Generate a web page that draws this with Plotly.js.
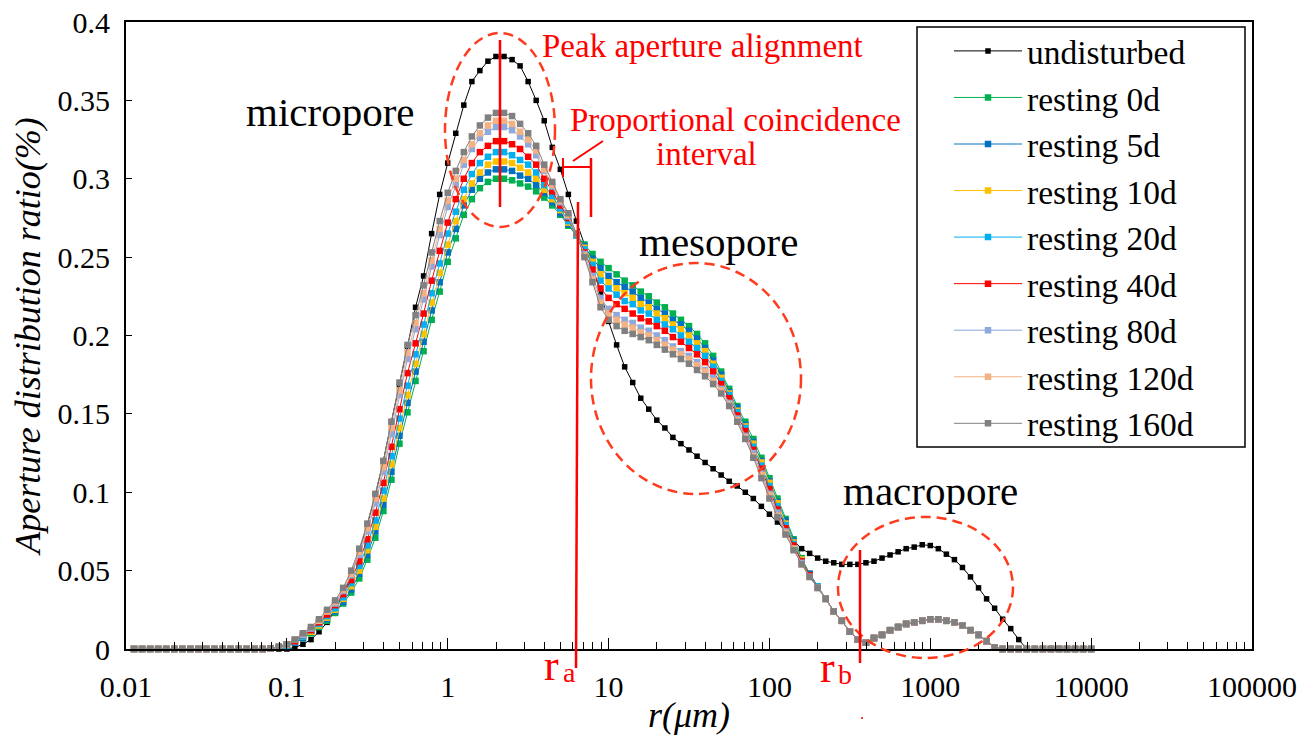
<!DOCTYPE html>
<html><head><meta charset="utf-8">
<script src="https://cdn.plot.ly/plotly-3.0.1.min.js"></script>
<style>html,body{margin:0;padding:0;background:#fff;}#chart{width:1299px;height:740px;}</style>
</head><body><div id="chart"></div>
<script>
// pore radius r (µm)
const radius = [0.01122,0.01259,0.01413,0.01585,0.01778,0.01995,0.02239,0.02512,0.02818,0.03162,0.03548,0.03981,0.04467,0.05012,0.05623,0.0631,0.07079,0.07943,0.08913,
0.1,0.1122,0.1259,0.1413,0.1585,0.1778,0.1995,0.2239,0.2512,0.2818,0.3162,0.3548,0.3981,0.4467,0.5012,0.5623,0.631,0.7079,0.7943,0.8913,
1,1.122,1.259,1.413,1.585,1.778,1.995,2.239,2.512,2.818,3.162,3.548,3.981,4.467,5.012,5.623,6.31,7.079,7.943,8.913,
10,11.22,12.59,14.13,15.85,17.78,19.95,22.39,25.12,28.18,31.62,35.48,39.81,44.67,50.12,56.23,63.1,70.79,79.43,89.13,
100,112.2,125.9,141.3,158.5,177.8,199.5,223.9,251.2,281.8,316.2,354.8,398.1,446.7,501.2,562.3,631,707.9,794.3,891.3,
1000,1122,1259,1413,1585,1778,1995,2239,2512,2818,3162,3548,3981,4467,5012,5623,6310,7079,7943,8913,10000];

const undisturbed = [0,0,0,0,0,0,0,0,0,0,0,0,0,0,0,0,0,0,0,0,
.001,.003,.006,.011,.017,.025,.035,.047,.062,.079,.098,.120,.145,.168,.193,.218,.238,.265,.290,
.310,.329,.347,.362,.369,.375,.378,.378,.376,.372,.362,.350,.337,.320,.306,.290,.273,.258,.244,.227,
.209,.194,.180,.170,.160,.153,.146,.141,.135,.131,.127,.123,.119,.115,.111,.107,.104,.100,.096,.091,
.086,.081,.075,.069,.064,.061,.058,.056,.055,.054,.054,.054,.055,.056,.058,.060,.062,.064,.065,.0665,
.066,.064,.0605,.057,.052,.046,.039,.032,.026,.019,.013,.006,0,0,0,0,0,0,0,0,0];

const resting0d = [0,0,0,0,0,0,0,0,0,0,0,0,0,0,0,0,0,
.0003,.001,.002,.004,.007,.010,.014,.018,.023,.029,.036,.045,.057,.071,.088,.108,.131,.151,.171,.190,.210,.228,
.247,.262,.277,.287,.294,.298,.300,.300,.299,.297,.295,.292,.288,.283,.277,.270,.264,.258,.252,.247,
.243,.239,.235,.232,.228,.225,.221,.218,.214,.210,.206,.201,.195,.187,.177,.166,.155,.145,.134,.122,
.109,.096,.083,.070,.058,.048,.040,
.032,.024,.018,.011,.006,.004,.007,.009,.012,.014,.016,.017,.018,.019,.019,.018,.017,.015,.012,.009,.005,.001,
0,0,0,0,0,0,0,0,0,0,0,0];

const resting5d = [0,0,0,0,0,0,0,0,0,0,0,0,0,0,0,0,0,
.0003,.0011,.002,.004,.007,.011,.015,.019,.024,.030,.038,.048,.060,.075,.092,.113,.136,.157,.177,.196,.216,.234,
.253,.268,.283,.293,.300,.304,.306,.306,.305,.302,.300,.296,.291,.285,.278,.271,.264,.257,.249,.243,
.238,.234,.231,.228,.224,.221,.217,.214,.210,.207,.203,.198,.192,.184,.175,.164,.154,.143,.132,.120,
.107,.094,.082,.069,.057,.048,.040,
.032,.024,.018,.011,.006,.004,.007,.009,.012,.014,.016,.017,.018,.019,.019,.018,.017,.015,.012,.009,.005,.001,
0,0,0,0,0,0,0,0,0,0,0,0];

const resting10d = [0,0,0,0,0,0,0,0,0,0,0,0,0,0,0,0,0,
.0004,.0011,.002,.005,.008,.011,.015,.020,.025,.032,.040,.050,.063,.078,.096,.118,.141,.162,.182,.201,.221,.240,
.258,.273,.287,.297,.304,.309,.311,.311,.310,.307,.304,.300,.293,.287,.280,.272,.264,.256,.247,.239,
.234,.230,.227,.224,.220,.218,.214,.211,.207,.204,.200,.195,.190,.182,.173,.163,.152,.142,.131,.119,
.106,.093,.080,.068,.057,.047,.040,
.032,.024,.018,.011,.006,.004,.007,.009,.012,.014,.016,.017,.018,.019,.019,.018,.017,.015,.012,.009,.005,.001,
0,0,0,0,0,0,0,0,0,0,0,0];

const resting20d = [0,0,0,0,0,0,0,0,0,0,0,0,0,0,0,0,0,
.0004,.0012,.002,.005,.008,.012,.016,.021,.026,.033,.042,.053,.066,.082,.101,.123,.147,.168,.188,.207,.227,.246,
.265,.279,.293,.303,.310,.314,.317,.317,.315,.312,.309,.304,.296,.289,.281,.273,.264,.255,.245,.235,
.230,.226,.222,.220,.216,.214,.210,.207,.204,.200,.196,.192,.187,.180,.171,.162,.151,.141,.129,.117,
.104,.091,.079,.067,.056,.047,.040,
.032,.024,.018,.011,.006,.004,.007,.009,.012,.014,.016,.017,.018,.019,.019,.018,.017,.015,.012,.009,.005,.001,
0,0,0,0,0,0,0,0,0,0,0,0];

const resting40d = [0,0,0,0,0,0,0,0,0,0,0,0,0,0,0,0,0,
.0004,.0013,.003,.005,.009,.012,.017,.022,.028,.035,.044,.056,.070,.087,.106,.129,.153,.176,.195,.214,.235,.254,
.272,.287,.300,.310,.317,.321,.324,.324,.322,.319,.314,.309,.300,.292,.283,.275,.265,.253,.242,.230,
.224,.220,.217,.214,.211,.209,.206,.203,.199,.196,.192,.188,.183,.177,.169,.160,.149,.139,.127,.115,
.102,.089,.077,.066,.056,.047,.039,
.032,.024,.018,.011,.006,.004,.007,.009,.012,.014,.016,.017,.018,.019,.019,.018,.017,.015,.012,.009,.005,.001,
0,0,0,0,0,0,0,0,0,0,0,0];

const resting80d = [0,0,0,0,0,0,0,0,0,0,0,0,0,0,0,0,0,
.0005,.0014,.003,.006,.009,.013,.018,.024,.029,.037,.047,.060,.075,.093,.113,.137,.162,.185,.204,.223,.244,.264,
.282,.296,.309,.319,.326,.330,.333,.333,.331,.327,.322,.315,.305,.295,.285,.276,.265,.252,.238,.224,
.217,.213,.210,.208,.205,.203,.200,.197,.193,.190,.187,.183,.178,.173,.166,.157,.147,.136,.125,.112,
.099,.087,.075,.064,.055,.046,.039,
.032,.024,.018,.011,.006,.004,.007,.009,.012,.014,.016,.017,.018,.019,.019,.018,.017,.015,.012,.009,.005,.001,
0,0,0,0,0,0,0,0,0,0,0,0];

const resting120d = [0,0,0,0,0,0,0,0,0,0,0,0,0,0,0,0,0,
.0005,.0014,.003,.006,.010,.014,.018,.024,.030,.038,.048,.062,.077,.096,.116,.141,.165,.189,.208,.227,.248,.268,
.286,.300,.312,.322,.329,.334,.337,.337,.335,.330,.325,.318,.306,.296,.286,.277,.265,.251,.236,.221,
.214,.210,.207,.205,.202,.200,.197,.194,.191,.188,.185,.181,.177,.171,.165,.156,.146,.135,.123,.111,
.098,.085,.074,.064,.054,.046,.039,
.032,.024,.018,.011,.006,.004,.007,.009,.012,.014,.016,.017,.018,.019,.019,.018,.017,.015,.012,.009,.005,.001,
0,0,0,0,0,0,0,0,0,0,0,0];

const resting160d = [0,0,0,0,0,0,0,0,0,0,0,0,0,0,0,0,0,
.0005,.0015,.003,.006,.010,.014,.019,.025,.031,.039,.050,.064,.080,.099,.120,.145,.170,.194,.213,.232,.253,.273,
.291,.305,.317,.327,.334,.339,.342,.342,.340,.335,.329,.321,.309,.298,.287,.278,.265,.250,.234,.218,
.210,.206,.203,.201,.199,.197,.194,.191,.188,.185,.182,.178,.174,.169,.163,.155,.145,.134,.122,.109,
.096,.084,.073,.063,.054,.046,.039,
.032,.024,.018,.011,.006,.004,.007,.009,.012,.014,.016,.017,.018,.019,.019,.018,.017,.015,.012,.009,.005,.001,
0,0,0,0,0,0,0,0,0,0,0,0];

const seriesNames = ['undisturbed','resting 0d','resting 5d','resting 10d','resting 20d','resting 40d','resting 80d','resting 120d','resting 160d'];
const seriesValues = [undisturbed,resting0d,resting5d,resting10d,resting20d,resting40d,resting80d,resting120d,resting160d];
const seriesColors = ['#000000','#00B050','#0070C0','#FFC000','#00B0F0','#FF0000','#8EA9DB','#F4B183','#808080'];

const xTickVals = [0.01,0.1,1,10,100,1000,10000,100000];
const xTickText = ['0.01','0.1','1','10','100','1000','10000','100000'];

const FONT = '"Liberation Serif", "Times New Roman", "DejaVu Serif", serif';
const RED = '#FF0000';
const DASHRED = '#FF3B1D';

// plot area in pixels: x 126..1252, y 22..649
const L = 126, R = 1252, T = 22, B = 649;
const X = px => (px - L) / (R - L);
const Y = py => (B - py) / (B - T);

const traces = seriesNames.map((name, i) => ({
  type: 'scatter', mode: 'lines+markers', name: name,
  x: radius, y: seriesValues[i],
  line: {color: seriesColors[i], width: 1},
  marker: {symbol: 'square', size: i === 0 ? 5.5 : 6.5, color: seriesColors[i]},
  cliponaxis: false
}));

function ann(px, py, text, size, color, xanchor, yanchor) {
  return {xref: 'paper', yref: 'paper', x: X(px), y: Y(py), text: text, showarrow: false,
    xanchor: xanchor || 'center', yanchor: yanchor || 'middle', font: {family: FONT, size: size, color: color}};
}
function seg(x0, y0, x1, y1, w) {
  return {type: 'line', xref: 'paper', yref: 'paper', x0: X(x0), y0: Y(y0), x1: X(x1), y1: Y(y1),
    line: {color: RED, width: w || 2.5}};
}
function oval(x0, y0, x1, y1) {
  return {type: 'circle', xref: 'paper', yref: 'paper', x0: X(x0), y0: Y(y0), x1: X(x1), y1: Y(y1),
    line: {color: DASHRED, width: 2.5, dash: '10px,6px'}};
}

const layout = {
  width: 1299, height: 740,
  margin: {l: L, r: 1299 - R, t: T, b: 740 - B},
  paper_bgcolor: '#fff', plot_bgcolor: '#fff',
  font: {family: FONT, color: '#000'},
  showlegend: true,
  legend: {x: X(949), y: 0.999, xanchor: 'left', yanchor: 'top',
    bgcolor: 'rgba(0,0,0,0)', borderwidth: 0,
    font: {family: FONT, size: 33.5, color: '#000'}, itemwidth: 68},
  xaxis: {type: 'log', range: [-2, 5], tickvals: xTickVals, ticktext: xTickText,
    ticks: 'inside', ticklen: 11, tickwidth: 1.3, tickcolor: '#000',
    minor: {ticks: 'inside', ticklen: 7, tickwidth: 1, tickcolor: '#000', dtick: 'D1', showgrid: false},
    showline: true, linecolor: '#000', linewidth: 2, mirror: true, showgrid: false, zeroline: false,
    tickfont: {family: FONT, size: 30, color: '#000'}, ticklabelstandoff: 10,
    title: {text: '<i>r(μm)</i>', font: {family: FONT, size: 36, color: '#000'}, standoff: 0}},
  yaxis: {range: [0, 0.4], dtick: 0.05, ticks: 'inside', ticklen: 6, tickwidth: 1.3, tickcolor: '#000',
    showline: true, linecolor: '#000', linewidth: 2, mirror: true, showgrid: false, zeroline: false,
    tickfont: {family: FONT, size: 30, color: '#000'}, ticklabelstandoff: 8,
    title: {text: '<i>Aperture distribution ratio(%)</i>', font: {family: FONT, size: 36, color: '#000'}, standoff: 6}},
  annotations: [
    ann(330, 112, 'micropore', 41, '#000'),
    ann(718, 242, 'mesopore', 41, '#000'),
    ann(930, 491, 'macropore', 41, '#000'),
    ann(540, 46, 'Peak aperture alignment', 33, RED, 'left'),
    ann(735, 120, 'Proportional coincidence', 33, RED),
    ann(706, 154, 'interval', 33, RED),
    ann(561, 692, 'r', 44, RED, 'right', 'bottom'),
    ann(561, 690, 'a', 28, RED, 'left', 'bottom'),
    ann(837, 694, 'r', 44, RED, 'right', 'bottom'),
    ann(836, 692, 'b', 28, RED, 'left', 'bottom')
  ],
  shapes: [
    {type: 'rect', xref: 'paper', yref: 'paper', x0: X(917), y0: Y(27), x1: X(1245), y1: Y(447),
      fillcolor: '#fff', line: {color: '#000', width: 1.5}, layer: 'above'},
    oval(445, 33, 555, 227),
    oval(591, 263, 801, 494),
    oval(838, 517, 1013, 658),
    seg(500, 40, 500, 207),
    seg(563, 158, 563, 177, 2),
    seg(563, 167, 591, 167, 2),
    seg(591, 158, 591, 217, 2.5),
    seg(573, 161, 603, 141, 2),
    seg(578, 202, 576, 668, 2.5),
    seg(860, 550, 860, 663, 2.5),
    seg(862, 717, 862, 719, 1.5)
  ]
};

Plotly.newPlot('chart', traces, layout, {displayModeBar: false, responsive: false});
</script>
</body></html>
